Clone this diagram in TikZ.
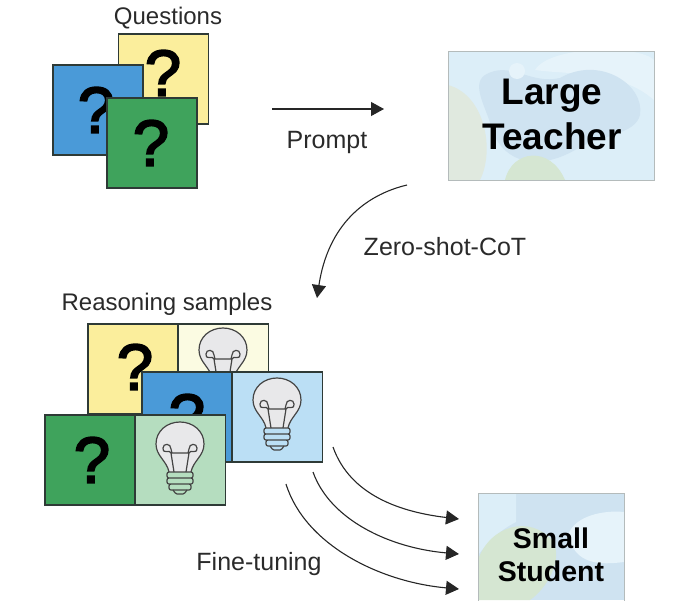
\documentclass[tikz,border=0pt]{standalone}
\usepackage{fontspec}
\setmainfont{Liberation Sans}
\usetikzlibrary{arrows.meta}

\definecolor{cardyellow}{HTML}{FBEE9C}
\definecolor{cardblue}{HTML}{4A9AD8}
\definecolor{cardgreen}{HTML}{3FA35C}
\definecolor{paleyellow}{HTML}{FBFBE2}
\definecolor{paleblue}{HTML}{BBDFF5}
\definecolor{palegreen}{HTML}{B5DDBF}
\definecolor{cardline}{HTML}{2E3A36}
\definecolor{bulbline}{HTML}{444444}
\definecolor{bulbfill}{HTML}{E8E8EA}
\definecolor{boxline}{HTML}{B4BBBB}
\definecolor{skyone}{HTML}{DCEEF8}
\definecolor{skytwo}{HTML}{CFE3F1}
\definecolor{skypale}{HTML}{E6F3FA}
\definecolor{mossone}{HTML}{E0E9DF}
\definecolor{mosstwo}{HTML}{D5E6D2}
\definecolor{inktext}{HTML}{2A2A2A}

\tikzset{
    card/.style={draw=cardline, line width=1.1pt, minimum size=90pt, inner sep=0pt, outer sep=0pt},
    qmark/.style={font=\fontsize{65}{65}\selectfont\addfontfeature{FakeBold=3}, text=black, inner sep=0pt},
    caption/.style={font=\fontsize{24}{28}\selectfont, text=inktext, inner sep=0pt},
    widecaption/.style={font=\fontsize{25}{28}\selectfont, text=inktext, inner sep=0pt},
    flow/.style={-{Triangle[length=13pt,width=14pt]}, line width=1.1pt, black!85},
    bulb/.pic={
        \draw[bulbline, fill=bulbfill, line width=1.2pt]
            (-11,25) .. controls (-13,14) and (-24,9) .. (-24,-3)
            .. controls (-24,-16) and (-13,-25) .. (0,-25)
            .. controls (13,-25) and (24,-16) .. (24,-3)
            .. controls (24,9) and (13,14) .. (11,25);
        \draw[bulbline, line width=1.2pt] (-6,25) -- (-9,6) .. controls (-10,2) and (-17,8) .. (-17,1)
            .. controls (-17,-4) and (-9,-4) .. (-9,2) -- (-8,6) -- (8,6) -- (9,2)
            .. controls (9,-4) and (17,-4) .. (17,1) .. controls (17,8) and (10,2) .. (9,6) -- (6,25);
        \draw[bulbline, line width=1.2pt, rounded corners=2pt]
            (-13,25) rectangle (13,31) (-13,31) rectangle (13,37) (-11,37) rectangle (11,43);
        \draw[bulbline, line width=1.2pt] (-7,43) .. controls (-6,46) and (-4,46) .. (-3,47) -- (3,47) .. controls (4,46) and (6,46) .. (7,43);
    }
}

\begin{document}
\begin{tikzpicture}[x=1pt,y=-1pt]

    \useasboundingbox (0,0) rectangle (683,600);
    \clip (0,0) rectangle (683,600);

    % questions
    \node[caption] (questions) at (168,18) {Questions};
    \node[card, fill=cardyellow] (qyellow) at (163.5,79) {};
    \node[qmark] (qmyellow) at (163,73) {?};
    \node[card, fill=cardblue] (qblue) at (98,110) {};
    \node[qmark] (qmblue) at (96,110) {?};
    \node[card, fill=cardgreen] (qgreen) at (152,143) {};
    \node[qmark] (qmgreen) at (151,143) {?};

    % teacher
    \begin{scope}
        \clip (448,51) rectangle (654,180);
        \fill[skyone] (448,51) rectangle (654,180);
        \fill[skypale] (535,70) .. controls (550,45) and (640,45) .. (654,60) -- (654,100) .. controls (620,70) and (570,75) .. (535,70) -- cycle;
        \fill[skytwo] (485,75) .. controls (510,60) and (530,85) .. (560,78) .. controls (600,55) and (645,85) .. (640,115) .. controls (635,135) and (600,135) .. (575,150) .. controls (540,170) and (505,165) .. (492,130) .. controls (488,110) and (470,85) .. (485,75) -- cycle;
        \fill[skypale] (517,71) circle (8);
        \fill[mossone] (448,85) .. controls (485,95) and (495,150) .. (480,180) -- (448,180) -- cycle;
        \fill[mosstwo] (505,180) .. controls (512,150) and (550,145) .. (565,180) -- cycle;
    \end{scope}
    \node[draw=boxline, line width=1pt, minimum width=206pt, minimum height=129pt, inner sep=0pt] (teacher) at (551,115.5) {};
    \node[font=\bfseries\fontsize{37}{45}\selectfont, align=center, text=black, inner sep=0pt] (teacherlabel) at (552,114) {Large\\Teacher};

    % prompt
    \coordinate (promptstart) at (272,109);
    \coordinate (promptend) at (384,109);
    \draw[flow] (promptstart) -- (promptend);
    \node[widecaption] (prompt) at (327,142) {Prompt};

    % zero shot
    \coordinate (cotstart) at (407,185);
    \coordinate (cotend) at (317,298);
    \draw[flow] (cotstart) .. controls (365,195) and (328,225) .. (cotend);
    \node[widecaption] (cot) at (445,247) {Zero-shot-CoT};

    % reasoning samples
    \node[caption] (samples) at (167,304) {Reasoning samples};

    \node[card, fill=cardyellow] (syellow) at (133,369) {};
    \node[qmark] (smyellow) at (135,367) {?};
    \node[card, fill=paleyellow] (ayellow) at (223.5,369) {};
    \pic at (223,353) {bulb};

    \node[card, fill=cardblue] (sblue) at (187,417) {};
    \node[qmark] (smblue) at (187,417) {?};
    \node[card, fill=paleblue] (ablue) at (277.5,417) {};
    \pic at (277,403) {bulb};

    \node[card, fill=cardgreen] (sgreen) at (90,460) {};
    \node[qmark] (smgreen) at (92,460) {?};
    \node[card, fill=palegreen] (agreen) at (180.5,460) {};
    \pic at (180,447) {bulb};

    % fine tuning
    \coordinate (tuneaa) at (333,447);
    \coordinate (tunebb) at (313,472);
    \coordinate (tunecc) at (286,484);
    \coordinate (tunedd) at (459,519);
    \coordinate (tuneee) at (459,554);
    \coordinate (tuneff) at (459,589);
    \draw[flow] (tuneaa) .. controls (350,495) and (400,512) .. (tunedd);
    \draw[flow] (tunebb) .. controls (330,520) and (390,548) .. (tuneee);
    \draw[flow] (tunecc) .. controls (305,545) and (380,582) .. (tuneff);
    \node[widecaption] (tuning) at (259,564) {Fine-tuning};

    % student
    \begin{scope}
        \clip (478,493) rectangle (624,600);
        \fill[skytwo] (478,493) rectangle (624,600);
        \fill[skyone] (478,493) -- (516,493) -- (516,522) .. controls (500,530) and (490,540) .. (478,555) -- cycle;
        \fill[skypale] (568,535) .. controls (575,515) and (605,510) .. (624,512) -- (624,562) .. controls (600,565) and (575,565) .. (568,535) -- cycle;
        \fill[mosstwo] (478,560) .. controls (490,525) and (530,515) .. (552,540) .. controls (565,560) and (545,590) .. (530,600) -- (478,600) -- cycle;
    \end{scope}
    \draw[boxline, line width=1pt] (478,601) -- (478,493) -- (624,493) -- (624,601);
    \coordinate (student) at (551,546);
    \node[font=\bfseries\fontsize{28.5}{33}\selectfont, align=center, text=black, inner sep=0pt] (studentlabel) at (551,555) {Small\\Student};

\end{tikzpicture}
\end{document}
